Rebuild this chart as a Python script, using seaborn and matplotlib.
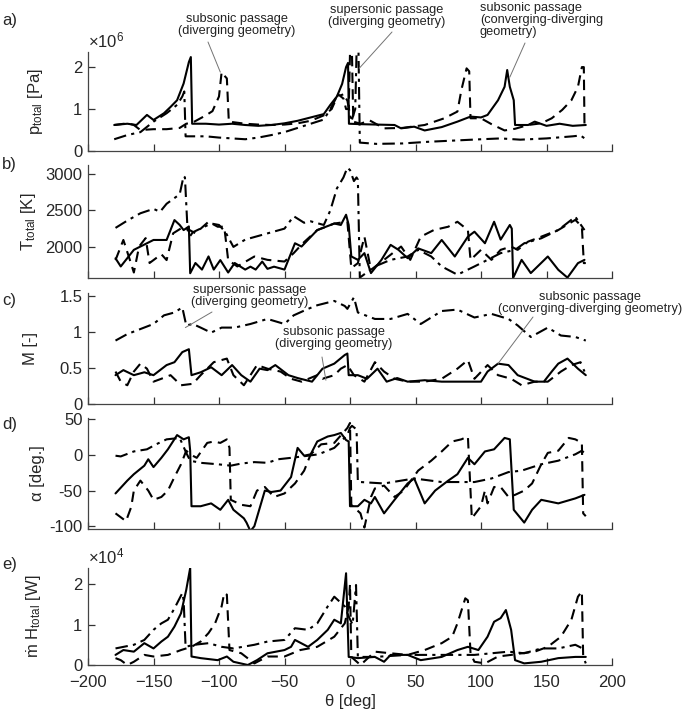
import pandas as pd
import seaborn as sns
import matplotlib.pyplot as plt

# ---------------- data ----------------
# a) total pressure, x1e6 Pa
A_SOLID_T = [-180, -170, -163, -155, -150, -142, -137, -132, -127, -123,
             -121.5, -120.5, -110, -100, -90, -80, -70, -60, -50, -40,
             -30, -20, -15, -10, -6, -3, -1.5, -0.8, 8, 20,
             34, 39, 49, 57, 70, 82, 92, 100, 105, 113,
             118, 120, 122, 125, 126, 136, 141, 150, 160, 170,
             180]
A_SOLID_V = [0.62, 0.65, 0.62, 0.86, 0.74, 0.9, 1.05, 1.21, 1.61, 2.12,
             2.24, 0.65, 0.65, 0.63, 0.65, 0.62, 0.6, 0.62, 0.66, 0.72,
             0.8, 0.88, 1.1, 1.3, 1.6, 2.0, 2.1, 0.65, 0.64, 0.63,
             0.62, 0.54, 0.58, 0.49, 0.57, 0.7, 0.82, 0.8, 0.86, 1.21,
             1.53, 1.93, 1.53, 1.21, 0.62, 0.62, 0.7, 0.6, 0.65, 0.6,
             0.62]
A_DASH_T = [-180, -170, -165, -160, -150, -140, -130, -125, -120, -110,
            -105, -100, -98, -96, -94, -92.5, -80, -70, -60, -50,
            -40, -30, -20, -14, -9, -5, -3, -1, 0, 1.5,
            2.5, 8, 15, 26, 40, 57, 72, 82, 85, 89,
            91, 92, 100, 108, 118, 126, 136, 146, 154, 162,
            169, 174, 177, 178.5, 179, 180]
A_DASH_V = [0.62, 0.66, 0.62, 0.5, 0.52, 0.52, 0.55, 0.65, 0.68, 0.85,
            0.95, 1.3, 1.88, 1.8, 1.73, 0.7, 0.65, 0.63, 0.62, 0.63,
            0.66, 0.72, 0.85, 1.0, 1.35, 1.25, 1.0, 1.0, 2.33, 2.33,
            0.7, 0.65, 0.73, 0.54, 0.55, 0.62, 0.78, 0.94, 1.45, 1.97,
            1.9, 0.78, 0.78, 0.64, 0.49, 0.53, 0.62, 0.66, 0.78, 0.98,
            1.21, 1.53, 2.0, 2.0, 0.6, 0.58]
A_DD_T = [-180, -170, -160, -150, -140, -132, -128, -126.5, -125.5, -110,
          -100, -90, -80, -70, -60, -50, -40, -30, -20, -15,
          -10, -5, -2, 1, 4, 5, 6.5, 7.5, 20, 40,
          60, 80, 100, 115, 130, 150, 170, 176, 180]
A_DD_V = [0.28, 0.38, 0.45, 0.7, 0.9, 1.1, 1.3, 1.42, 0.35, 0.35,
          0.32, 0.3, 0.28, 0.32, 0.38, 0.45, 0.55, 0.65, 0.75, 1.0,
          1.3, 1.35, 1.2, 0.7, 1.0, 2.35, 2.35, 0.2, 0.17, 0.18,
          0.22, 0.25, 0.28, 0.3, 0.27, 0.3, 0.35, 0.37, 0.28]

# b) total temperature, K
B_SOLID_T = [-179, -175, -165, -160, -150, -140, -134, -130, -127, -123,
             -122, -118, -113, -108, -104, -99, -93, -88, -80, -76,
             -72, -67, -63, -58, -50, -42, -37, -25, -12, -7,
             -3, -1, 1, 6, 11, 16, 24, 31, 37, 44,
             52, 62, 70, 80, 90, 95, 103, 110, 115, 122,
             123.5, 124.5, 131, 138, 151, 159, 166, 174, 179]
B_SOLID_V = [1844, 1733, 1960, 2005, 2095, 2095, 2367, 2300, 2230, 2280,
             1640, 1780, 1690, 1870, 1690, 1820, 1650, 1780, 1690, 1730,
             1690, 1800, 1700, 1730, 1690, 2050, 2005, 2230, 2320, 2300,
             2440, 2300, 1870, 1823, 1915, 1642, 1823, 2028, 1960, 1846,
             1980, 1915, 2095, 1869, 2140, 2208, 2050, 2344, 2100, 2300,
             2250, 1575, 1823, 1642, 1869, 1687, 1580, 1778, 1823]
B_DASH_T = [-179, -173, -168, -165, -161, -156, -153, -150, -144, -140,
            -135, -127, -118, -108, -101, -96, -93, -86, -73, -63,
            -50, -43, -36, -25, -12, -2, 1, 6, 11, 16,
            26, 39, 46, 54, 64, 75, 82, 90, 92, 100,
            108, 115, 123, 128, 136, 146, 159, 172, 177, 178.5,
            180]
B_DASH_V = [1820, 2095, 1820, 1650, 2005, 2120, 1780, 1820, 1900, 1820,
            2186, 2276, 2186, 2344, 2276, 2276, 1820, 1733, 1869, 1823,
            1800, 1915, 2050, 2230, 2320, 2344, 1710, 1778, 2140, 1687,
            1823, 2005, 1823, 2140, 2231, 2276, 2344, 2231, 1823, 1960,
            1823, 1960, 2005, 1960, 2073, 2140, 2231, 2370, 2276, 1778,
            1780]
B_DD_T = [-179, -170, -160, -150, -145, -140, -130, -127, -126, -124,
          -122, -120, -106, -100, -95, -89, -80, -70, -60, -50,
          -43, -35, -30, -20, -15, -10, -5, -2, 0, 3,
          5, 6, 7.5, 19, 31, 44, 52, 62, 70, 82,
          95, 105, 115, 126, 133, 146, 159, 172, 179]
B_DD_V = [2260, 2360, 2460, 2520, 2480, 2590, 2720, 2970, 2950, 2230,
          2150, 2200, 2320, 2300, 2200, 2000, 2100, 2150, 2200, 2250,
          2420, 2330, 2350, 2300, 2500, 2800, 2950, 3085, 3050, 2900,
          2950, 2920, 1580, 1733, 1823, 1869, 1960, 1869, 1733, 1620,
          1733, 1823, 1915, 1960, 2050, 2118, 2231, 2412, 2230]

# c) Mach number
C_SOLID_T = [-179, -173, -165, -157, -150, -140, -134, -128, -123, -121,
             -114, -106, -98, -90, -83, -76, -69, -63, -57, -47,
             -40, -29, -21, -12, -4, -2, -1, 6, 13, 21,
             28, 36, 44, 57, 70, 82, 100, 105, 113, 121,
             128, 141, 148, 154, 159, 166, 174, 180]
C_SOLID_V = [0.40, 0.47, 0.40, 0.44, 0.40, 0.54, 0.58, 0.72, 0.76, 0.40,
             0.44, 0.51, 0.40, 0.54, 0.40, 0.31, 0.49, 0.47, 0.54, 0.40,
             0.36, 0.31, 0.49, 0.56, 0.68, 0.70, 0.40, 0.40, 0.35, 0.49,
             0.31, 0.36, 0.31, 0.33, 0.31, 0.31, 0.31, 0.45, 0.56, 0.54,
             0.40, 0.31, 0.31, 0.45, 0.56, 0.63, 0.49, 0.40]
C_DASH_T = [-179, -175, -170, -165, -160, -155, -150, -144, -137, -129,
            -120, -114, -104, -94, -89, -81, -71, -63, -53, -45,
            -37, -25, -21, -12, -7, -2, 3, 11, 19, 26,
            34, 44, 57, 70, 82, 90, 95, 105, 113, 123,
            131, 141, 151, 161, 169, 176, 179]
C_DASH_V = [0.45, 0.31, 0.26, 0.45, 0.56, 0.49, 0.31, 0.35, 0.40, 0.26,
            0.28, 0.40, 0.58, 0.63, 0.40, 0.26, 0.54, 0.49, 0.45, 0.35,
            0.31, 0.40, 0.35, 0.40, 0.49, 0.54, 0.40, 0.31, 0.58, 0.45,
            0.35, 0.31, 0.31, 0.35, 0.49, 0.61, 0.35, 0.54, 0.40, 0.35,
            0.26, 0.31, 0.31, 0.45, 0.54, 0.58, 0.45]
C_DD_T = [-179, -170, -160, -150, -142, -134, -128, -125, -120, -114,
          -106, -98, -88, -76, -63, -50, -43, -32, -25, -12,
          -4, -2, 3, 6, 19, 31, 44, 54, 70, 82,
          95, 108, 121, 128, 138, 151, 161, 172, 180]
C_DD_V = [0.88, 0.97, 1.04, 1.11, 1.23, 1.27, 1.34, 1.09, 1.11, 1.06,
          0.99, 1.06, 1.06, 1.11, 1.18, 1.11, 1.23, 1.32, 1.37, 1.43,
          1.36, 1.32, 1.48, 1.27, 1.18, 1.18, 1.25, 1.11, 1.29, 1.31,
          1.20, 1.25, 1.18, 1.09, 0.93, 1.06, 0.95, 0.93, 0.88]

# d) flow angle, deg
D_SOLID_T = [-179, -170, -165, -157, -154, -150, -144, -139, -132, -127,
             -123, -122, -121, -114, -106, -99, -93, -89, -81, -79,
             -76, -73, -65, -60, -53, -45, -40, -35, -30, -25,
             -17, -12, -7, -3, -1, 0, 6, 11, 16, 19,
             26, 34, 44, 49, 57, 65, 75, 82, 90, 95,
             103, 110, 118, 122, 125, 133, 139, 146, 159, 172,
             179]
D_SOLID_V = [-54, -36, -27, -15, -6, -17, -4, 8, 28, 22,
             25, 6, -72, -72, -68, -77, -63, -77, -89, -95,
             -107, -100, -50, -52, -50, -31, 10, -1, 1, 19,
             26, 28, 31, 21, 19, -72, -72, -63, -68, -59,
             -82, -63, -40, -33, -68, -50, -36, -27, -4, -13,
             5, 8, 24, 22, -77, -95, -77, -63, -68, -61,
             -56]
D_DASH_T = [-179, -171, -167, -165, -160, -154, -150, -144, -139, -134,
            -129, -125, -122, -117, -109, -104, -99, -94, -92, -91,
            -83, -76, -71, -65, -58, -50, -42, -35, -30, -22,
            -12, -2, 0, 1, 8, 11, 16, 19, 26, 34,
            41, 52, 62, 70, 78, 85, 90, 93, 100, 103,
            105, 110, 115, 121, 126, 133, 139, 146, 151, 159,
            167, 172, 177, 178, 180]
D_DASH_V = [-82, -93, -73, -50, -36, -50, -63, -59, -50, -31,
            -13, 6, 1, -4, 17, 19, 17, 22, 10, -63,
            -70, -72, -50, -45, -59, -54, -40, -22, 1, 15,
            17, 38, 45, -70, -82, -102, -59, -47, -43, -59,
            -50, -22, -8, 5, 19, 22, 26, -89, -72, -50,
            -68, -45, -45, -59, -56, -50, -40, -13, 3, 6,
            24, 22, 17, -82, -86]
D_DD_T = [-179, -175, -165, -155, -148, -140, -130, -125, -122, -114,
          -101, -91, -83, -73, -63, -55, -45, -32, -24, -12,
          -2, 0, 1.5, 5, 6, 8, 26, 49, 70, 95,
          108, 121, 131, 146, 159, 172, 177, 180]
D_DD_V = [-1, -2, 5, 8, 15, 22, 24, 3, -8, -11,
          -13, -15, -12, -10, -11, -6, -4, -1, 1, 10,
          28, 38, 41, 36, -38, -38, -40, -33, -38, -38,
          -33, -24, -22, -13, -8, 1, 6, 1]

# e) total enthalpy flow, x1e4 W
E_SOLID_T = [-179, -173, -165, -157, -150, -144, -139, -134, -129, -125,
             -122, -121, -114, -101, -94, -89, -78, -71, -63, -50,
             -45, -42, -32, -25, -17, -12, -7, -3, -1, 6,
             19, 26, 31, 44, 54, 70, 82, 90, 98, 105,
             110, 115, 119, 123, 126, 133, 146, 159, 172, 180]
E_SOLID_V = [0.25, 0.37, 0.33, 0.54, 0.41, 0.58, 0.7, 0.95, 1.28, 1.86,
             2.4, 0.21, 0.17, 0.12, 0.21, 0.08, 0.0, 0.12, 0.29, 0.37,
             0.45, 0.62, 0.45, 0.62, 0.87, 1.12, 1.03, 2.27, 0.2, 0.17,
             0.2, 0.08, 0.25, 0.25, 0.12, 0.2, 0.37, 0.45, 0.37, 0.7,
             1.07, 1.16, 1.36, 0.87, 0.12, 0.04, 0.08, 0.17, 0.2, 0.2]
E_DASH_T = [-179, -175, -170, -165, -157, -150, -139, -129, -121, -114,
            -108, -103, -98, -96, -94, -92, -83, -73, -63, -50,
            -38, -25, -12, -4, -1, 0, 1, 8, 19, 31,
            44, 57, 70, 78, 82, 88, 90, 92, 95, 103,
            113, 123, 131, 141, 151, 161, 169, 174, 177, 178,
            180]
E_DASH_V = [0.17, 0.12, 0.0, 0.08, 0.25, 0.21, 0.25, 0.37, 0.45, 0.58,
            0.79, 1.03, 1.45, 1.78, 1.74, 0.37, 0.29, 0.04, 0.21, 0.21,
            0.37, 0.45, 0.7, 1.03, 1.45, 2.0, 0.2, 0.0, 0.33, 0.29,
            0.25, 0.37, 0.54, 0.7, 1.03, 1.65, 1.6, 0.29, 0.08, 0.04,
            0.21, 0.25, 0.29, 0.33, 0.45, 0.7, 1.12, 1.69, 1.82, 0.2,
            0.04]
E_DD_T = [-179, -165, -157, -150, -144, -139, -134, -128, -127, -125.5,
          -119, -108, -98, -89, -73, -63, -50, -42, -32, -25,
          -17, -12, -4, -1, 2, 4.6, 6, 19, 44, 70,
          95, 121, 133, 146, 159, 172, 180]
E_DD_V = [0.41, 0.5, 0.62, 0.87, 1.03, 1.12, 1.4, 1.78, 1.6, 0.45,
          0.5, 0.54, 0.45, 0.41, 0.5, 0.58, 0.62, 0.91, 0.87, 1.03,
          1.45, 1.69, 1.45, 1.2, 1.0, 1.98, 0.2, 0.2, 0.25, 0.25,
          0.25, 0.33, 0.29, 0.41, 0.41, 0.5, 0.37]

CASES = ['solid', 'dashed', 'dashdot']
DASHES = {'solid': '', 'dashed': (5, 3), 'dashdot': (6, 2.5, 1.5, 2.5)}

PANELS = [
    dict(tag='a)', ylabel=r'p$_{\mathrm{total}}$ [Pa]', ylim=(0, 2.36),
         yticks=[0, 1, 2], yticklabels=['0', '1', '2'], scale=r'×10$^{6}$',
         series=[(A_SOLID_T, A_SOLID_V), (A_DASH_T, A_DASH_V), (A_DD_T, A_DD_V)]),
    dict(tag='b)', ylabel=r'T$_{\mathrm{total}}$ [K]', ylim=(1575, 3120),
         yticks=[2000, 2500, 3000], yticklabels=['2000', '2500', '3000'], scale=None,
         series=[(B_SOLID_T, B_SOLID_V), (B_DASH_T, B_DASH_V), (B_DD_T, B_DD_V)]),
    dict(tag='c)', ylabel='M [-]', ylim=(0, 1.54),
         yticks=[0, 0.5, 1, 1.5], yticklabels=['0', '0.5', '1', '1.5'], scale=None,
         series=[(C_SOLID_T, C_SOLID_V), (C_DASH_T, C_DASH_V), (C_DD_T, C_DD_V)]),
    dict(tag='d)', ylabel='α [deg.]', ylim=(-104, 52),
         yticks=[-100, -50, 0, 50], yticklabels=['-100', '-50', '0', '50'], scale=None,
         series=[(D_SOLID_T, D_SOLID_V), (D_DASH_T, D_DASH_V), (D_DD_T, D_DD_V)]),
    dict(tag='e)', ylabel=r'ṁ H$_{\mathrm{total}}$ [W]', ylim=(0, 2.4),
         yticks=[0, 1, 2], yticklabels=['0', '1', '2'], scale=r'×10$^{4}$',
         series=[(E_SOLID_T, E_SOLID_V), (E_DASH_T, E_DASH_V), (E_DD_T, E_DD_V)]),
]

XTICKS = [-200, -150, -100, -50, 0, 50, 100, 150, 200]

# ---------------- layout (pixels in a 685 x 713 figure) ----------------
W, H = 685, 713
# (top, bottom) of each axes box, in pixels from the top
BOXES = [(52, 151), (165, 278), (293, 404), (418, 529), (568, 665)]
LEFT, RIGHT = 88, 612
LABEL_X = [45, 38, 38, 45, 43]
TAG_Y = [20, 165, 300, 425, 565]


def frame(series):
    parts = []
    for case, (t, v) in zip(CASES, series):
        parts.append(pd.DataFrame({'theta': t, 'value': v, 'case': case}))
    return pd.concat(parts, ignore_index=True)


sns.set_style('ticks')
plt.rcParams['font.family'] = ['Liberation Sans', 'DejaVu Sans']
plt.rcParams['mathtext.fontset'] = 'custom'
plt.rcParams['mathtext.rm'] = 'Liberation Sans'
plt.rcParams['mathtext.it'] = 'Liberation Sans:italic'

fig = plt.figure(figsize=(W / 100, H / 100), dpi=100)
axes = []
for i, p in enumerate(PANELS):
    top, bot = BOXES[i]
    ax = fig.add_axes([LEFT / W, 1 - bot / H, (RIGHT - LEFT) / W, (bot - top) / H])
    sns.lineplot(data=frame(p['series']), x='theta', y='value', style='case',
                 style_order=CASES, dashes=DASHES, color='black', linewidth=1.5,
                 sort=False, estimator=None, legend=False, ax=ax)
    ax.set_xlim(-200, 200)
    ax.set_ylim(*p['ylim'])
    ax.set_xticks(XTICKS)
    ax.set_yticks(p['yticks'])
    ax.set_yticklabels(p['yticklabels'])
    ax.tick_params(direction='in', length=5, width=0.9, labelsize=12,
                   color='#333333', pad=4)
    ax.tick_params(axis='x', pad=7)
    for s in ['top', 'right']:
        ax.spines[s].set_visible(False)
    for s in ['left', 'bottom']:
        ax.spines[s].set_color('#444444')
        ax.spines[s].set_linewidth(0.9)
    ax.set_xlabel('')
    ax.set_ylabel(p['ylabel'], fontsize=12)
    ax.yaxis.set_label_coords((LABEL_X[i] - LEFT) / (RIGHT - LEFT), 0.5)
    if i < len(PANELS) - 1:
        ax.tick_params(labelbottom=False)
    if p['scale']:
        ax.text(0.0, 1.015, p['scale'], transform=ax.transAxes, ha='left',
                va='bottom', fontsize=12)
    fig.text(2 / W, 1 - TAG_Y[i] / H, p['tag'], ha='left', va='center', fontsize=12)
    axes.append(ax)

axes[-1].set_xlabel('θ [deg]', fontsize=12, labelpad=3)


def note(ax, text, xy, tx, ty, start, ha='center'):
    fig.text(tx / W, 1 - ty / H, text, ha=ha, va='center', fontsize=9.2,
             color='#222222', linespacing=1.05)
    ax.annotate('', xy=xy, xycoords='data', xytext=(start[0], H - start[1]),
                textcoords='figure pixels', annotation_clip=False,
                arrowprops=dict(arrowstyle='-', color='0.45', lw=0.7,
                                shrinkA=0, shrinkB=0))


note(axes[0], 'subsonic passage\n(diverging geometry)', (-99, 1.88), 237, 25, (208, 42))
note(axes[0], 'supersonic passage\n(diverging geometry)', (7, 1.97), 387, 16, (392, 32))
note(axes[0], 'subsonic passage\n(converging-diverging\ngeometry)', (122, 1.76),
     480, 20, (525, 43), ha='left')
note(axes[2], 'supersonic passage\n(diverging geometry)', (-125.7, 1.06), 250, 296, (212, 312))
note(axes[2], 'subsonic passage\n(diverging geometry)', (-18.4, 0.33), 334, 338, (322, 357))
note(axes[2], 'subsonic passage\n(converging-diverging geometry)', (113, 0.56),
     590, 303, (533, 317))

fig.savefig('out.png', dpi=100)
